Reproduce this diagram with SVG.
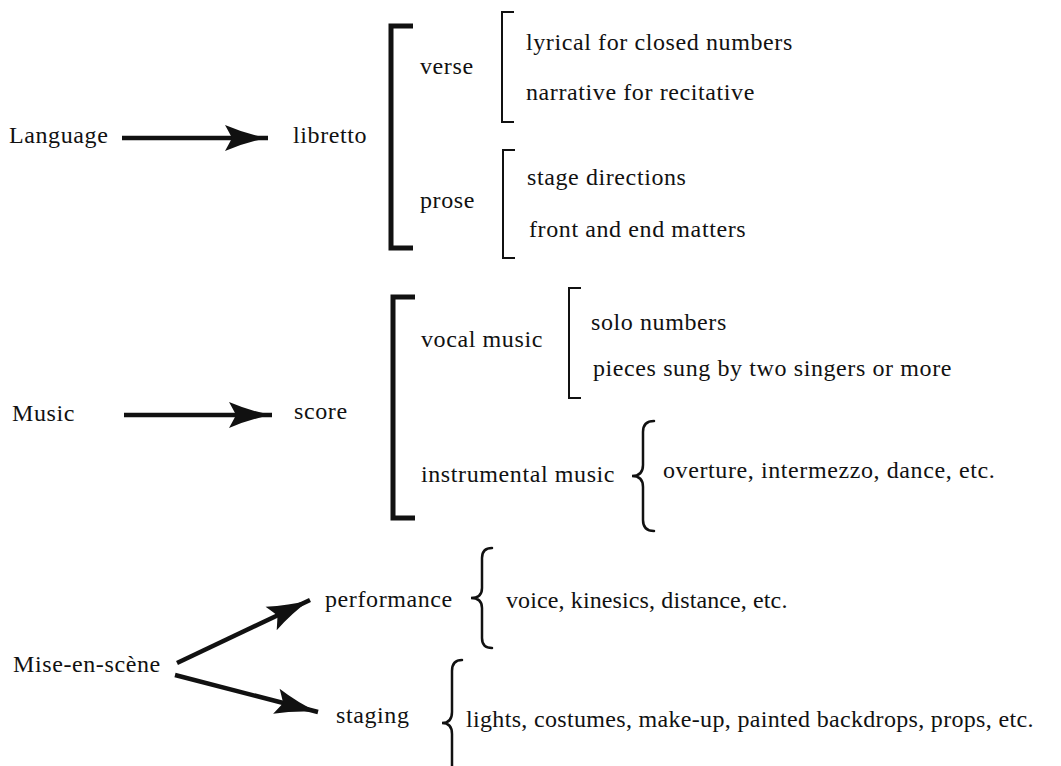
<svg xmlns="http://www.w3.org/2000/svg" width="1061" height="766" viewBox="0 0 1061 766">
<style>
text{font-family:"Liberation Serif","Times New Roman",serif;font-size:24px;letter-spacing:0.6px;fill:#111}
.bb{fill:none;stroke:#111;stroke-width:5}
.tb{fill:none;stroke:#111;stroke-width:2}
.br{fill:none;stroke:#111;stroke-width:2.5;stroke-linecap:round}
.ar{fill:none;stroke:#111;stroke-width:4.5;marker-end:url(#head)}
</style>
<defs>
<marker id="head" markerUnits="userSpaceOnUse" markerWidth="46" markerHeight="28" viewBox="0 0 46 28" refX="44" refY="14" orient="auto">
<path d="M44,14 Q22,10 1,1 Q6,10 8,14 Q6,18 1,27 Q22,18 44,14 Z" fill="#111"/>
</marker>
</defs>
<rect width="1061" height="766" fill="#fff"/>
<g id="connectors">
<line class="ar" x1="122" y1="138" x2="268" y2="138"/>
<line class="ar" x1="124" y1="415" x2="272" y2="415"/>
<line class="ar" x1="177" y1="663" x2="310" y2="600"/>
<line class="ar" x1="175" y1="675" x2="318" y2="712"/>
</g>
<g id="language"><text x="9" y="143">Language</text></g>
<g id="libretto">
<text x="293" y="143">libretto</text>
<path class="bb" d="M413,26 H391 V248 H413"/>
</g>
<g id="verse">
<text x="420" y="74">verse</text>
<path class="tb" d="M514,12 H502 V122 H514"/>
<text x="526" y="50">lyrical for closed numbers</text>
<text x="526" y="100">narrative for recitative</text>
</g>
<g id="prose">
<text x="420" y="208">prose</text>
<path class="tb" d="M515,150 H503 V258 H515"/>
<text x="527" y="185">stage directions</text>
<text x="529" y="237">front and end matters</text>
</g>
<g id="music"><text x="12" y="421">Music</text></g>
<g id="score">
<text x="294" y="419">score</text>
<path class="bb" d="M415,297 H393 V518 H415"/>
</g>
<g id="vocal-music">
<text x="421" y="347">vocal music</text>
<path class="tb" d="M581,288 H569 V398 H581"/>
<text x="591" y="330">solo numbers</text>
<text x="593" y="376">pieces sung by two singers or more</text>
</g>
<g id="instrumental-music">
<text x="421" y="482">instrumental music</text>
<path class="br" d="M654,421 Q643,421 643,432 L643,465 Q643,476 632,476 Q643,476 643,487 L643,520 Q643,531 654,531"/>
<text x="663" y="478">overture, intermezzo, dance, etc.</text>
</g>
<g id="mise-en-scene"><text x="13" y="672">Mise-en-scène</text></g>
<g id="performance">
<text x="325" y="607">performance</text>
<path class="br" d="M492,548 Q482,548 482,558 L482,588 Q482,598 471,598 Q482,598 482,608 L482,638 Q482,648 492,648"/>
<text x="506" y="608" textLength="282" lengthAdjust="spacing">voice, kinesics, distance, etc.</text>
</g>
<g id="staging">
<text x="336" y="723">staging</text>
<path class="br" d="M462,660 Q452,660 452,671 L452,712 Q452,723 442,723 Q452,723 452,734 L452,775 Q452,786 462,786"/>
<text x="466" y="727" textLength="568" lengthAdjust="spacing">lights, costumes, make-up, painted backdrops, props, etc.</text>
</g>
</svg>
